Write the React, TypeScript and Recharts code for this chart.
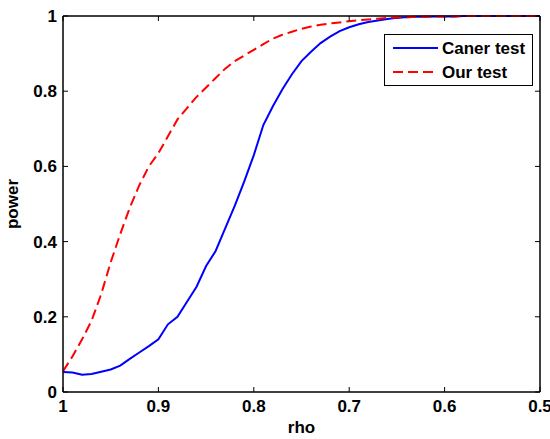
import { LineChart, Line, XAxis, YAxis, ReferenceArea } from 'recharts';

const rho = [
  1.0, 0.99, 0.98, 0.97, 0.96, 0.95, 0.94, 0.93, 0.92, 0.91,
  0.9, 0.89, 0.88, 0.87, 0.86, 0.85, 0.84, 0.83, 0.82, 0.81,
  0.8, 0.79, 0.78, 0.77, 0.76, 0.75, 0.74, 0.73, 0.72, 0.71,
  0.7, 0.69, 0.68, 0.67, 0.66, 0.65, 0.64, 0.63, 0.62, 0.61,
  0.6, 0.59, 0.58, 0.57, 0.56, 0.55, 0.54, 0.53, 0.52, 0.51, 0.5,
];

const caner = [
  0.053, 0.052, 0.046, 0.048, 0.054, 0.06, 0.07, 0.088, 0.105, 0.122,
  0.14, 0.18, 0.2, 0.24, 0.28, 0.335, 0.375, 0.435, 0.495, 0.56,
  0.63, 0.71, 0.76, 0.805, 0.845, 0.88, 0.905, 0.928, 0.945, 0.96,
  0.97, 0.978, 0.984, 0.988, 0.992, 0.995, 0.997, 0.998, 0.998, 0.999,
  0.999, 0.999, 1, 1, 1, 1, 1, 1, 1, 1, 1,
];

const ours = [
  0.055, 0.095, 0.14, 0.19, 0.26, 0.345, 0.42, 0.49, 0.55, 0.6,
  0.635, 0.68, 0.725, 0.755, 0.785, 0.81, 0.835, 0.86, 0.88, 0.895,
  0.91, 0.925, 0.94, 0.95, 0.958, 0.966, 0.972, 0.977, 0.98, 0.983,
  0.986, 0.989, 0.991, 0.993, 0.995, 0.996, 0.997, 0.998, 0.998, 0.999,
  0.999, 0.999, 1, 1, 1, 1, 1, 1, 1, 1, 1,
];

const xTicks = [1, 0.9, 0.8, 0.7, 0.6, 0.5];
const yTicks = [0, 0.2, 0.4, 0.6, 0.8, 1];

const data = rho.map((r, i) => ({ rho: r, caner: caner[i], ours: ours[i] }));

const font = "'Liberation Sans', Arial, sans-serif";
const TICK = 5;

const fmt = (v: number) => (v === 0 || v === 1 ? String(v) : v.toFixed(1));

function BottomTick(props: any) {
  const { x, y, payload } = props;
  return (
    <g>
      <line x1={x} x2={x} y1={y} y2={y - TICK} stroke="#000" />
      <text x={x} y={y + 20} textAnchor="middle" fontSize={17} fontWeight="bold" fontFamily={font} fill="#000">
        {fmt(payload.value)}
      </text>
    </g>
  );
}

function TopTick(props: any) {
  const { x, y } = props;
  return <line x1={x} x2={x} y1={y} y2={y + TICK} stroke="#000" />;
}

function LeftTick(props: any) {
  const { x, y, payload } = props;
  return (
    <g>
      <line x1={x} x2={x + TICK} y1={y} y2={y} stroke="#000" />
      <text x={x - 6} y={y + 6} textAnchor="end" fontSize={17} fontWeight="bold" fontFamily={font} fill="#000">
        {fmt(payload.value)}
      </text>
    </g>
  );
}

function RightTick(props: any) {
  const { x, y } = props;
  return <line x1={x} x2={x - TICK} y1={y} y2={y} stroke="#000" />;
}

function LegendBox() {
  const items = [
    { label: 'Caner test', color: '#0000ff', dash: undefined },
    { label: 'Our test', color: '#ff0000', dash: '10 5' },
  ];
  return (
    <svg width={150} height={53} style={{ display: 'block' }}>
      <rect x={0.5} y={0.5} width={148} height={51} fill="#fff" stroke="#000" />
      {items.map((it, i) => (
        <g key={it.label}>
          <line x1={9} x2={54} y1={14 + i * 24} y2={14 + i * 24} stroke={it.color} strokeWidth={2} strokeDasharray={it.dash} />
          <text x={58} y={20 + i * 24} fontSize={17} fontWeight="bold" fontFamily={font} fill="#000">
            {it.label}
          </text>
        </g>
      ))}
    </svg>
  );
}

export default function App() {
  return (
    <div style={{ position: 'absolute', left: 0, top: 0, width: 550, height: 439, background: '#fff' }}>
      <LineChart width={550} height={439} data={data} margin={{ top: 15, right: 9, left: 0, bottom: 0 }}>
        <XAxis
          dataKey="rho"
          type="number"
          domain={[0.5, 1]}
          reversed
          ticks={xTicks}
          tickSize={0}
          tickMargin={0}
          height={47}
          stroke="#000"
          tick={<BottomTick />}
          label={{ value: 'rho', position: 'insideBottom', offset: 6, fontSize: 17, fontWeight: 'bold', fontFamily: font, fill: '#000' }}
        />
        <XAxis
          xAxisId="top"
          orientation="top"
          dataKey="rho"
          type="number"
          domain={[0.5, 1]}
          reversed
          ticks={xTicks}
          tickSize={0}
          tickMargin={0}
          height={1}
          stroke="#000"
          tick={<TopTick />}
        />
        <YAxis
          type="number"
          domain={[0, 1]}
          ticks={yTicks}
          tickSize={0}
          tickMargin={0}
          width={63}
          stroke="#000"
          tick={<LeftTick />}
          label={{ value: 'power', angle: -90, position: 'insideLeft', offset: 12, fontSize: 17, fontWeight: 'bold', fontFamily: font, fill: '#000', style: { textAnchor: 'middle' } }}
        />
        <YAxis
          yAxisId="right"
          orientation="right"
          type="number"
          domain={[0, 1]}
          ticks={yTicks}
          tickSize={0}
          tickMargin={0}
          width={1}
          stroke="#000"
          tick={<RightTick />}
        />
        {/* invisible series so the top and right box axes get drawn */}
        <Line xAxisId="top" yAxisId="right" dataKey="ours" stroke="none" dot={false} activeDot={false} legendType="none" isAnimationActive={false} />
        <ReferenceArea x1={1} x2={0.5} y1={0} y2={1} fill="none" stroke="#000" strokeWidth={1} ifOverflow="visible" />
        <Line type="linear" dataKey="caner" stroke="#0000ff" strokeWidth={2} dot={false} isAnimationActive={false} />
        <Line type="linear" dataKey="ours" stroke="#ff0000" strokeWidth={2} strokeDasharray="10 5" dot={false} isAnimationActive={false} />
      </LineChart>
      <div style={{ position: 'absolute', left: 384, top: 34 }}>
        <LegendBox />
      </div>
    </div>
  );
}
